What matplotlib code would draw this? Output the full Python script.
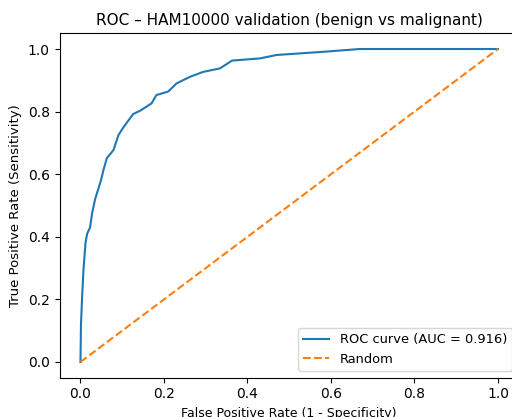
import matplotlib
matplotlib.use("Agg")
import matplotlib.pyplot as plt

# ROC points (false positive rate, true positive rate)
fpr = [0.0, 0.0012, 0.004, 0.007, 0.012, 0.016, 0.023, 0.028, 0.035, 0.042,
       0.049, 0.055, 0.063, 0.079, 0.091, 0.103, 0.126, 0.143, 0.17, 0.182,
       0.21, 0.23, 0.262, 0.294, 0.334, 0.363, 0.43, 0.47, 0.581, 0.669, 1.0]
tpr = [0.0, 0.12, 0.21, 0.29, 0.38, 0.41, 0.43, 0.476, 0.52, 0.55,
       0.58, 0.613, 0.651, 0.677, 0.725, 0.75, 0.792, 0.803, 0.826, 0.853,
       0.864, 0.89, 0.911, 0.927, 0.938, 0.963, 0.970, 0.981, 0.991, 1.0, 1.0]
auc_value = 0.916
chance = [0, 1]

fig = plt.figure(figsize=(5.12, 4.17), dpi=100)
ax = fig.add_axes([0.1164, 0.0944, 0.897, 0.8256])

ax.plot(fpr, tpr, label=f"ROC curve (AUC = {auc_value:.3f})")
ax.plot(chance, chance, linestyle="--", label="Random")

ax.set_xlabel("False Positive Rate (1 - Specificity)", fontsize=9)
ax.set_ylabel("True Positive Rate (Sensitivity)", fontsize=9.5)
ax.set_title("ROC – HAM10000 validation (benign vs malignant)", fontsize=11)
ax.legend(loc="lower right", fontsize=9.4)

fig.savefig("out.png", dpi=100)
